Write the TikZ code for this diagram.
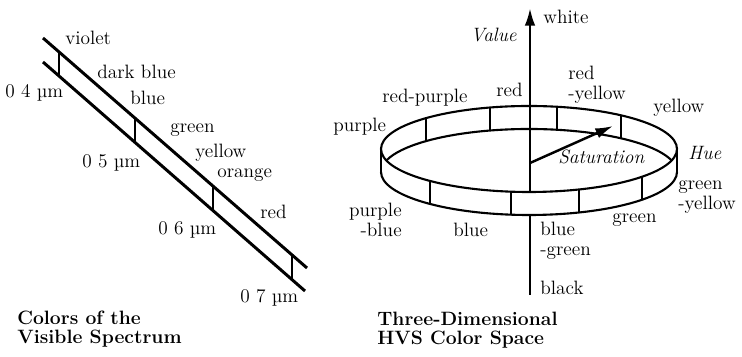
\documentclass[tikz,border=0pt]{standalone}
\usepackage{tikz}
\usetikzlibrary{arrows.meta}

\begin{document}
\begin{tikzpicture}[x=0.02cm, y=0.02cm,
  lbl/.style={inner sep=0pt, font=\fontsize{11}{11.5}\selectfont},
  hvsname/.style={lbl, font=\fontsize{11}{11.5}\selectfont\itshape},
  caption/.style={inner sep=0pt, align=left, font=\fontsize{11}{10.6}\selectfont\bfseries},
  band/.style={line width=1.7pt},
  ring/.style={line width=1.2pt},
  tick/.style={line width=0.7pt}]
  \useasboundingbox (0,0) rectangle (742,357);

  % visible spectrum
  \coordinate (specTopA) at (43,319);
  \coordinate (specTopB) at (307,89);
  \coordinate (specBotA) at (43,295);
  \coordinate (specBotB) at (305,66);
  \draw[band] (specTopA) -- (specTopB);
  \draw[band] (specBotA) -- (specBotB);
  \foreach \x in {59,135,213,292}
    \draw[tick] (\x,{305-0.875*(\x-59)}) -- ++(0,-24);
  \node[lbl, anchor=west] (sViolet) at (65,319) {violet};
  \node[lbl, anchor=west] (sDarkBlue) at (97,285) {dark blue};
  \node[lbl, anchor=west] (sBlue) at (130,259) {blue};
  \node[lbl, anchor=west] (sGreen) at (170,227) {green};
  \node[lbl, anchor=west] (sYellow) at (195,204) {yellow};
  \node[lbl, anchor=west] (sOrange) at (217,182) {orange};
  \node[lbl, anchor=west] (sRed) at (260,145) {red};
  \node[lbl, anchor=west] (wl4) at (5,264) {0 4 \textmu m};
  \node[lbl, anchor=west] (wl5) at (82,194) {0 5 \textmu m};
  \node[lbl, anchor=west] (wl6) at (158,127) {0 6 \textmu m};
  \node[lbl, anchor=west] (wl7) at (240,59) {0 7 \textmu m};
  \node[caption, anchor=west] (capSpectrum) at (17,28) {Colors of the\\Visible Spectrum};

  % HVS colour space
  \coordinate (ringTop) at (529,208);
  \coordinate (ringBot) at (529,185);
  \draw[ring] (ringTop) ellipse [x radius=148, y radius=43];
  \draw[ring] ([shift={(16:148 and 43)}]ringBot) arc [start angle=16, end angle=164, x radius=148, y radius=43];
  \draw[ring] ([shift={(180:148 and 43)}]ringBot) arc [start angle=180, end angle=360, x radius=148, y radius=43];
  \draw[ring] (381,208) -- (381,185);
  \draw[ring] (677,208) -- (677,185);
  \foreach \x in {426,490,557,621}
    \draw[tick] (\x,{208+43*sqrt(1-((\x-529)/148)^2)}) -- ++(0,-23);
  \foreach \x in {430,511,579,642}
    \draw[tick] (\x,{208-43*sqrt(1-((\x-529)/148)^2)}) -- ++(0,-23);

  \coordinate (valTop) at (530,349);
  \coordinate (valMid) at (530,165);
  \coordinate (valLow) at (530,142);
  \coordinate (valBot) at (530,62);
  \draw[line width=1.5pt, -{Latex[length=10pt, width=6pt]}] (valMid) -- (valTop);
  \draw[line width=1.5pt] (valLow) -- (valBot);
  \coordinate (satStart) at (530,194);
  \coordinate (satEnd) at (613,231);
  \draw[line width=1.4pt, -{Latex[length=10pt, width=6pt]}] (satStart) -- (satEnd);

  \node[lbl, anchor=west] (hWhite) at (543,340) {white};
  \node[hvsname, anchor=east] (hValue) at (517,322) {Value};
  \node[hvsname, anchor=west] (hSaturation) at (558,200) {Saturation};
  \node[hvsname, anchor=west] (hHue) at (688,204) {Hue};
  \node[lbl, anchor=east] (hRed) at (523,267) {red};
  \node[lbl, anchor=west, align=left] (hRedYellow) at (568,272) {red\\-yellow};
  \node[lbl, anchor=west] (hRedPurple) at (382,259) {red-purple};
  \node[lbl, anchor=west] (hPurple) at (333,230) {purple};
  \node[lbl, anchor=west] (hYellow) at (653,249) {yellow};
  \node[lbl, anchor=west, align=left] (hGreenYellow) at (678,160) {green\\-yellow};
  \node[lbl, anchor=west] (hGreen) at (612,137) {green};
  \node[lbl, anchor=west, align=left] (hBlueGreen) at (540,116) {blue\\-green};
  \node[lbl, anchor=west] (hBlack) at (540,69) {black};
  \node[lbl, anchor=west] (hBlue) at (453,127) {blue};
  \node[lbl, anchor=east, align=right] (hPurpleBlue) at (402,137) {purple\\-blue};
  \node[caption, anchor=west] (capHVS) at (377,27) {Three-Dimensional\\HVS Color Space};
\end{tikzpicture}
\end{document}
